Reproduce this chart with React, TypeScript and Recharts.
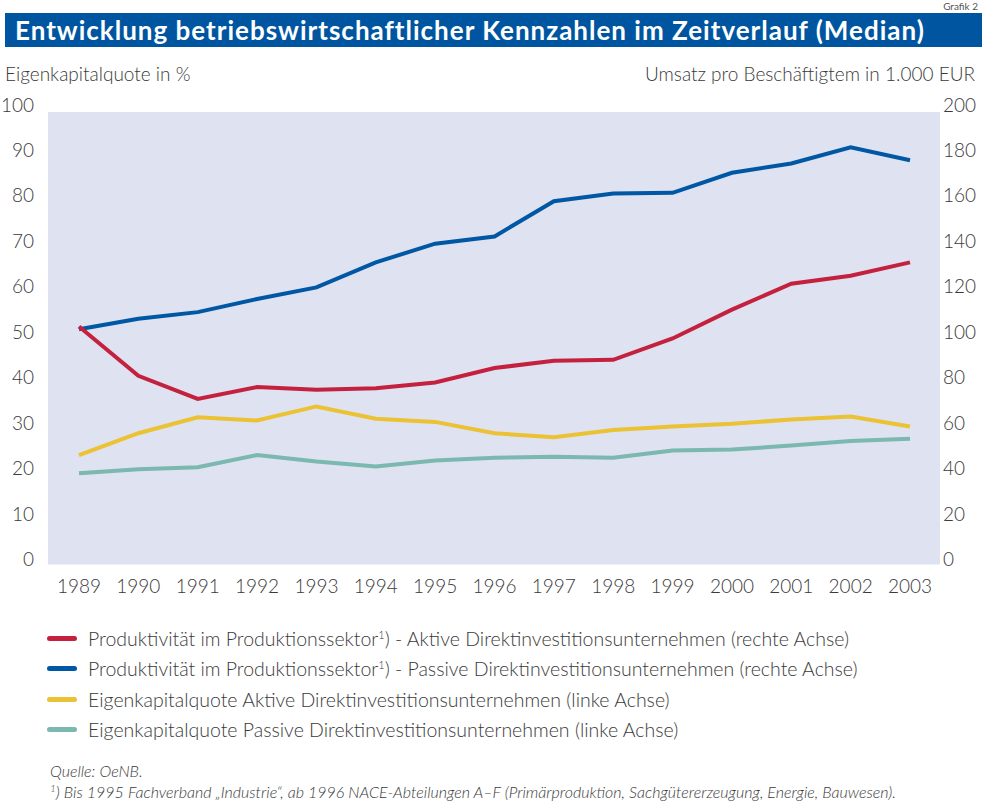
import React from "react";
import { LineChart, Line, XAxis, YAxis, CartesianGrid } from "recharts";

const years = ["1989","1990","1991","1992","1993","1994","1995","1996","1997","1998","1999","2000","2001","2002","2003"];
const prodAktiv = [105.2, 83.5, 73.3, 78.5, 77.3, 78.0, 80.5, 86.9, 90.1, 90.5, 99.9, 112.6, 124.0, 127.5, 133.4];
const prodPassiv = [104.0, 108.6, 111.5, 117.3, 122.4, 133.4, 141.6, 144.8, 160.3, 163.7, 164.0, 172.8, 176.9, 184.0, 178.3];
const ekqAktiv = [24.3, 29.1, 32.6, 31.9, 35.0, 32.3, 31.6, 29.1, 28.2, 29.8, 30.6, 31.2, 32.1, 32.8, 30.6];
const ekqPassiv = [20.3, 21.2, 21.6, 24.3, 22.9, 21.8, 23.1, 23.7, 23.9, 23.7, 25.3, 25.5, 26.4, 27.4, 27.9];
const leftTicks = [0, 10, 20, 30, 40, 50, 60, 70, 80, 90, 100];
const rightTicks = [0, 20, 40, 60, 80, 100, 120, 140, 160, 180, 200];

const legendItems = [
  { color: "#C4213F", pre: "Produktivität im Produktionssektor", sup: "1", post: ") - Aktive Direktinvestitionsunternehmen (rechte Achse)" },
  { color: "#0057A4", pre: "Produktivität im Produktionssektor", sup: "1", post: ") - Passive Direktinvestitionsunternehmen (rechte Achse)" },
  { color: "#EBC233", pre: "Eigenkapitalquote Aktive Direktinvestitionsunternehmen (linke Achse)", sup: "", post: "" },
  { color: "#7AB8B0", pre: "Eigenkapitalquote Passive Direktinvestitionsunternehmen (linke Achse)", sup: "", post: "" },
];

const data = years.map((y, i) => ({
  year: y,
  prodAktiv: prodAktiv[i],
  prodPassiv: prodPassiv[i],
  ekqAktiv: ekqAktiv[i],
  ekqPassiv: ekqPassiv[i],
}));

const FONT = "Lato, 'Open Sans', sans-serif";
const TXT = "#3a3a3a";

const LeftTick = (props: any) => {
  const { y, payload } = props;
  return (
    <text x={34} y={y - 7} textAnchor="end" dominantBaseline="central" fontSize={19} fill={TXT} fontFamily={FONT} fontWeight={300}>
      {payload.value}
    </text>
  );
};
const RightTick = (props: any) => {
  const { y, payload } = props;
  return (
    <text x={943} y={y - 7} textAnchor="start" dominantBaseline="central" fontSize={19} fill={TXT} fontFamily={FONT} fontWeight={300}>
      {payload.value}
    </text>
  );
};
const XTick = (props: any) => {
  const { x, payload } = props;
  return (
    <text x={x} y={585} textAnchor="middle" dominantBaseline="central" fontSize={19} fill={TXT} fontFamily={FONT} fontWeight={300}>
      {payload.value}
    </text>
  );
};

export default function App() {
  return (
    <div style={{ position: "absolute", left: 0, top: 0, width: 982, height: 804, background: "#fff", overflow: "hidden", fontFamily: FONT, color: TXT }}>
      <div style={{ position: "absolute", right: 4, top: 0, fontSize: 10, lineHeight: "12px", color: "#555" }}>Grafik 2</div>
      <div style={{ position: "absolute", left: 5, top: 13, width: 977, height: 34, background: "#0055A0" }} />
      <div style={{ position: "absolute", left: 15, top: 13, height: 34, lineHeight: "34px", fontSize: 26, letterSpacing: 1, fontWeight: 700, color: "#fff", whiteSpace: "nowrap" }}>
        Entwicklung betriebswirtschaftlicher Kennzahlen im Zeitverlauf (Median)
      </div>
      <div style={{ position: "absolute", left: 5, top: 62, fontSize: 19, fontWeight: 300, whiteSpace: "nowrap" }}>Eigenkapitalquote in %</div>
      <div style={{ position: "absolute", right: 7, top: 62, fontSize: 19, fontWeight: 300, whiteSpace: "nowrap" }}>Umsatz pro Beschäftigtem in 1.000 EUR</div>
      <div style={{ position: "absolute", left: 0, top: 0 }}>
        <LineChart width={982} height={804} data={data} margin={{ top: 111, left: 0, right: 0, bottom: 208.5 }}>
          <CartesianGrid vertical={false} horizontal={true} fill="#DFE2F0" stroke="#ffffff" strokeWidth={2} />
          <XAxis dataKey="year" height={30} axisLine={false} tickLine={false} padding={{ left: 31, right: 30 }} tick={<XTick />} interval={0} />
          <YAxis yAxisId="left" orientation="left" width={48} domain={[0, 100]} ticks={leftTicks} axisLine={false} tickLine={false} tick={<LeftTick />} interval={0} />
          <YAxis yAxisId="right" orientation="right" width={42} domain={[0, 200]} ticks={rightTicks} axisLine={false} tickLine={false} tick={<RightTick />} interval={0} />
          <Line yAxisId="left" dataKey="ekqPassiv" stroke="#7AB8B0" strokeWidth={4} dot={false} isAnimationActive={false} />
          <Line yAxisId="left" dataKey="ekqAktiv" stroke="#EBC233" strokeWidth={4} dot={false} isAnimationActive={false} />
          <Line yAxisId="right" dataKey="prodPassiv" stroke="#0057A4" strokeWidth={4} dot={false} isAnimationActive={false} />
          <Line yAxisId="right" dataKey="prodAktiv" stroke="#C4213F" strokeWidth={4} dot={false} isAnimationActive={false} />
        </LineChart>
      </div>
      {legendItems.map((it, i) => (
        <div key={i} style={{ position: "absolute", left: 47, top: 624 + i * 30.5, height: 28, display: "flex", alignItems: "center", whiteSpace: "nowrap" }}>
          <span style={{ display: "inline-block", width: 30, height: 5, borderRadius: 3, background: it.color, marginRight: 11 }} />
          <span style={{ fontSize: 19.5, fontWeight: 300 }}>
            {it.pre}
            {it.sup ? <sup style={{ fontSize: 11 }}>{it.sup}</sup> : null}
            {it.post}
          </span>
        </div>
      ))}
      <div style={{ position: "absolute", left: 50, top: 761, fontSize: 16, fontStyle: "italic", fontWeight: 300, whiteSpace: "nowrap" }}>Quelle: OeNB.</div>
      <div style={{ position: "absolute", left: 50, top: 782, fontSize: 16, fontStyle: "italic", fontWeight: 300, whiteSpace: "nowrap" }}>
        <sup style={{ fontSize: 10 }}>1</sup>) Bis 1995 Fachverband „Industrie“, ab 1996 NACE-Abteilungen A–F (Primärproduktion, Sachgütererzeugung, Energie, Bauwesen).
      </div>
    </div>
  );
}
